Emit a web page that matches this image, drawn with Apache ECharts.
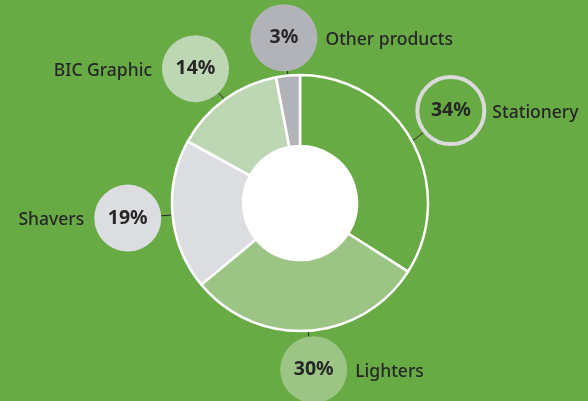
<!DOCTYPE html>
<html><head><meta charset="utf-8">
<script src="https://cdn.jsdelivr.net/npm/echarts@6/dist/echarts.min.js"></script>
<style>html,body{margin:0;padding:0;background:#68ab45}#c{width:588px;height:401px}</style>
</head><body><div id="c"></div>
<script>
// data
const categories = ['Stationery', 'Lighters', 'Shavers', 'BIC Graphic', 'Other products'];
const shares = [34, 30, 19, 14, 3];

// styles / layout
const BG = '#68ab45';
const sliceColors = ['#68ab45', '#9cc585', '#dcdde0', '#bdd6b4', '#b2b3b9'];
const badgeFill = ['rgba(0,0,0,0)', '#9cc585', '#dcdde0', '#bdd6b4', '#b2b3b9'];
const badgeBorder = ['#dadada', 'transparent', 'transparent', 'transparent', 'transparent'];
const nameSide = ['right', 'right', 'left', 'left', 'right'];
const badgeNudge = [[1, -10], [3, -4], [-2, -1], [-4, 4], [0, 5]];
const CX = 300, CY = 203, R_IN = 57, R_OUT = 128, BADGE_DIST = 171, BADGE_R = 33.5;
const TXT = '#262626';

const nameStyle = { fontFamily: 'Noto Sans', fontSize: 17.5, fontWeight: 500, color: TXT, verticalAlign: 'middle' };
const rich = {
  nl: Object.assign({}, nameStyle, { padding: [4, 10, 0, 0] }),
  nr: Object.assign({}, nameStyle, { padding: [4, 0, 0, 8] })
};
categories.forEach((c, i) => {
  rich['c' + i] = {
    fontFamily: 'Noto Sans', fontSize: 19.5, fontWeight: 'bold', color: TXT,
    width: BADGE_R * 2, height: BADGE_R * 2, lineHeight: BADGE_R * 2,
    borderRadius: BADGE_R, align: 'center', verticalAlign: 'middle',
    backgroundColor: badgeFill[i], borderColor: badgeBorder[i], borderWidth: i === 0 ? 2 : 0
  };
});

const chart = echarts.init(document.getElementById('c'), null, { renderer: 'canvas' });
chart.setOption({
  backgroundColor: BG,
  animation: false,
  series: [
    {
      type: 'pie',
      center: [CX, CY],
      radius: [R_IN, R_OUT],
      startAngle: 90,
      clockwise: true,
      avoidLabelOverlap: false,
      itemStyle: { borderColor: '#ffffff', borderWidth: 2.5 },
      emphasis: { disabled: true },
      label: {
        show: true,
        position: 'outside',
        formatter: p => {
          const i = p.dataIndex;
          const badge = '{c' + i + '|' + shares[i] + '%}';
          return nameSide[i] === 'right'
            ? badge + '{nr|' + categories[i] + '}'
            : '{nl|' + categories[i] + '}' + badge;
        },
        rich: rich
      },
      labelLine: { show: true, length: 8, length2: 0, lineStyle: { color: '#2a2a2a', width: 1 } },
      labelLayout: params => {
        const i = params.dataIndex;
        const p0 = params.labelLinePoints[0];
        const dx = p0[0] - CX, dy = p0[1] - CY;
        const len = Math.sqrt(dx * dx + dy * dy);
        const ux = dx / len, uy = dy / len;
        const bx = CX + ux * BADGE_DIST + badgeNudge[i][0];
        const by = CY + uy * BADGE_DIST + badgeNudge[i][1];
        const vx = bx - p0[0], vy = by - p0[1];
        const vl = Math.sqrt(vx * vx + vy * vy);
        const end = [p0[0] + vx / vl * (vl - BADGE_R), p0[1] + vy / vl * (vl - BADGE_R)];
        return {
          x: nameSide[i] === 'right' ? bx - BADGE_R : bx + BADGE_R,
          y: by,
          align: nameSide[i] === 'right' ? 'left' : 'right',
          verticalAlign: 'middle',
          labelLinePoints: [p0, end, end]
        };
      },
      data: categories.map((c, i) => ({ name: c, value: shares[i], itemStyle: { color: sliceColors[i] } }))
    },
    {
      type: 'pie',
      center: [CX, CY],
      radius: [0, R_IN],
      silent: true,
      label: { show: false },
      labelLine: { show: false },
      itemStyle: { color: '#ffffff' },
      data: [{ value: 1, name: 'hole' }]
    }
  ]
});
</script>
</body></html>
